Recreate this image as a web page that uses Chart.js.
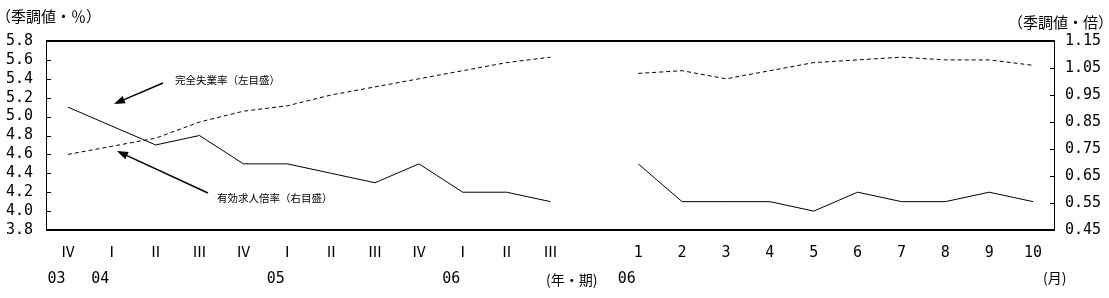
<!DOCTYPE html>
<html lang="ja">
<head>
<meta charset="utf-8">
<title>完全失業率と有効求人倍率</title>
<script src="https://cdn.jsdelivr.net/npm/chart.js@4.4.0/dist/chart.umd.min.js"></script>
<style>
  html, body { margin: 0; padding: 0; background: #fff; }
</style>
</head>
<body>
<canvas id="chart" width="1109" height="298"></canvas>
<script>
// 03年Ⅳ期〜06年Ⅲ期（四半期）、空き1つ、06年1〜10月（月次）
var periodLabels = ['Ⅳ', 'Ⅰ', 'Ⅱ', 'Ⅲ', 'Ⅳ', 'Ⅰ', 'Ⅱ', 'Ⅲ', 'Ⅳ', 'Ⅰ', 'Ⅱ', 'Ⅲ', '',
  '1', '2', '3', '4', '5', '6', '7', '8', '9', '10'];
var yearLabels = ['03', '04', '', '', '', '05', '', '', '', '06', '', '', '',
  '06', '', '', '', '', '', '', '', '', ''];
var unemployment = [5.1, 4.9, 4.7, 4.8, 4.5, 4.5, 4.4, 4.3, 4.5, 4.2, 4.2, 4.1, null,
  4.5, 4.1, 4.1, 4.1, 4.0, 4.2, 4.1, 4.1, 4.2, 4.1];
var jobRatio = [0.73, 0.76, 0.79, 0.85, 0.89, 0.91, 0.95, 0.98, 1.01, 1.04, 1.07, 1.09, null,
  1.03, 1.04, 1.01, 1.04, 1.07, 1.08, 1.09, 1.08, 1.08, 1.06];
var leftTicks = [3.8, 4.0, 4.2, 4.4, 4.6, 4.8, 5.0, 5.2, 5.4, 5.6, 5.8];
var rightTicks = [0.45, 0.55, 0.65, 0.75, 0.85, 0.95, 1.05, 1.15];

var numFont = { family: "'DejaVu Sans Mono', 'Noto Sans CJK JP'", size: 15 };
var jpFont = "'Noto Sans CJK JP', sans-serif";

// 枠・内向き目盛・単位・注記
var decorations = {
  id: 'decorations',
  afterDraw: function (chart) {
    var ctx = chart.ctx, a = chart.chartArea;
    var sy = chart.scales.y, sy1 = chart.scales.y1;
    ctx.save();
    ctx.strokeStyle = '#000';
    ctx.fillStyle = '#000';

    ctx.lineWidth = 2;
    ctx.beginPath();
    ctx.moveTo(a.left, a.top); ctx.lineTo(a.right, a.top);
    ctx.moveTo(a.left, a.bottom); ctx.lineTo(a.right, a.bottom);
    ctx.stroke();
    ctx.lineWidth = 1;
    ctx.beginPath();
    ctx.moveTo(a.left + 0.5, a.top); ctx.lineTo(a.left + 0.5, a.bottom);
    ctx.moveTo(a.right - 0.5, a.top); ctx.lineTo(a.right - 0.5, a.bottom);
    sy.ticks.forEach(function (t) {
      var py = Math.round(sy.getPixelForValue(t.value)) + 0.5;
      ctx.moveTo(a.left, py); ctx.lineTo(a.left + 5, py);
    });
    sy1.ticks.forEach(function (t) {
      var py = Math.round(sy1.getPixelForValue(t.value)) + 0.5;
      ctx.moveTo(a.right - 5, py); ctx.lineTo(a.right, py);
    });
    ctx.stroke();

    ctx.textBaseline = 'middle';
    ctx.font = '15px ' + jpFont;
    ctx.textAlign = 'left';
    ctx.fillText('（季調値・％）', -4, 16);
    ctx.textAlign = 'right';
    ctx.fillText('（季調値・倍）', 1113, 22);
    ctx.font = '14px ' + jpFont;
    ctx.textAlign = 'left';
    ctx.fillText('(年・期)', 546, 280);
    ctx.fillText('(月)', 1043, 278);

    ctx.font = '10.5px ' + jpFont;
    ctx.fillText('完全失業率（左目盛）', 175, 80);
    ctx.fillText('有効求人倍率（右目盛）', 217, 198);

    arrow(ctx, 163, 83, 114, 104);
    arrow(ctx, 208, 193, 117, 151);
    ctx.restore();
  }
};

function arrow(ctx, x1, y1, x2, y2) {
  var ang = Math.atan2(y2 - y1, x2 - x1), len = 11, w = 4;
  var bx = x2 - len * Math.cos(ang), by = y2 - len * Math.sin(ang);
  ctx.lineWidth = 1.5;
  ctx.beginPath();
  ctx.moveTo(x1, y1); ctx.lineTo(bx, by);
  ctx.stroke();
  ctx.beginPath();
  ctx.moveTo(x2, y2);
  ctx.lineTo(bx + w * Math.sin(ang), by - w * Math.cos(ang));
  ctx.lineTo(bx - w * Math.sin(ang), by + w * Math.cos(ang));
  ctx.closePath();
  ctx.fill();
}

new Chart(document.getElementById('chart'), {
  type: 'line',
  data: {
    labels: periodLabels,
    datasets: [
      {
        label: '完全失業率（左目盛）',
        data: unemployment,
        yAxisID: 'y',
        borderColor: '#000',
        borderWidth: 1,
        pointRadius: 0,
        tension: 0,
        spanGaps: false
      },
      {
        label: '有効求人倍率（右目盛）',
        data: jobRatio,
        yAxisID: 'y1',
        borderColor: '#000',
        borderWidth: 1,
        borderDash: [4, 3],
        pointRadius: 0,
        tension: 0,
        spanGaps: false
      }
    ]
  },
  options: {
    responsive: false,
    animation: false,
    layout: { padding: { top: 41, left: 0, right: 0, bottom: 0 } },
    plugins: { legend: { display: false }, tooltip: { enabled: false } },
    scales: {
      x: {
        type: 'category',
        labels: periodLabels,
        position: 'bottom',
        weight: 0,
        offset: true,
        grid: { display: false, drawTicks: false },
        border: { display: false },
        ticks: { autoSkip: false, maxRotation: 0, padding: 14, color: '#000', font: numFont },
        afterFit: function (s) { s.height = 36; }
      },
      x2: {
        type: 'category',
        labels: yearLabels,
        position: 'bottom',
        weight: 1,
        offset: true,
        grid: { display: false, drawTicks: false },
        border: { display: false },
        ticks: { autoSkip: false, maxRotation: 0, padding: 4, labelOffset: -11.5, color: '#000', font: numFont },
        afterFit: function (s) { s.height = 32; }
      },
      y: {
        position: 'left',
        min: 3.8,
        max: 5.8,
        grid: { display: false, drawTicks: false },
        border: { display: false },
        afterBuildTicks: function (s) { s.ticks = leftTicks.map(function (v) { return { value: v }; }); },
        ticks: { autoSkip: false, padding: 13, color: '#000', font: numFont, callback: function (v) { return v.toFixed(1); } },
        afterFit: function (s) { s.width = 46; }
      },
      y1: {
        position: 'right',
        min: 0.45,
        max: 1.15,
        grid: { display: false, drawTicks: false },
        border: { display: false },
        afterBuildTicks: function (s) { s.ticks = rightTicks.map(function (v) { return { value: v }; }); },
        ticks: { autoSkip: false, padding: 10, color: '#000', font: numFont, callback: function (v) { return v.toFixed(2); } },
        afterFit: function (s) { s.width = 54; }
      }
    }
  },
  plugins: [decorations]
});
</script>
</body>
</html>
